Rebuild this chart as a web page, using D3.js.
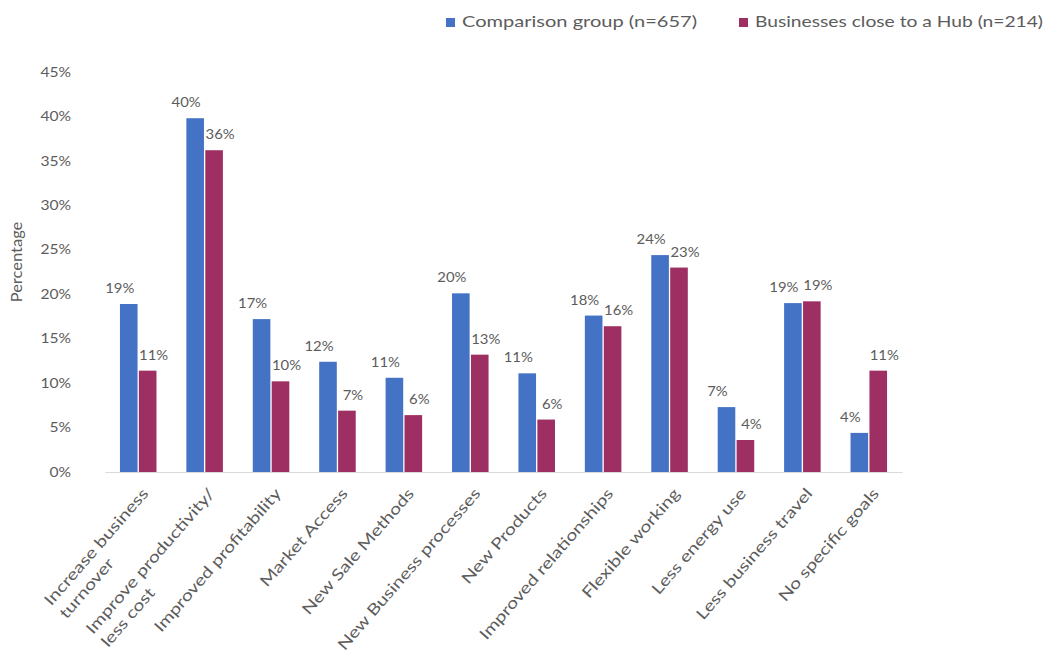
<!DOCTYPE html>
<html>
<head>
<meta charset="utf-8">
<script src="https://cdn.jsdelivr.net/npm/d3@7"></script>
<style>
  html, body { margin: 0; padding: 0; background: #fff; }
  svg text { font-family: Lato, "Open Sans", sans-serif; fill: #5c5c5c; }
</style>
</head>
<body>
<svg id="chart" width="1054" height="656"></svg>
<script>
// Goals reported by businesses: share of each group naming the goal
const categories = [
  "Increase business\nturnover",
  "Improve productivity/\nless cost",
  "Improved profitability",
  "Market Access",
  "New Sale Methods",
  "New Business processes",
  "New Products",
  "Improved relationships",
  "Flexible working",
  "Less energy use",
  "Less business travel",
  "No specific goals"
];
const comparison = [0.189, 0.398, 0.172, 0.124, 0.106, 0.201, 0.111, 0.176, 0.244, 0.073, 0.190, 0.044];
const hub        = [0.114, 0.362, 0.102, 0.069, 0.064, 0.132, 0.059, 0.164, 0.230, 0.036, 0.192, 0.114];
const seriesNames = ["Comparison group (n=657)", "Businesses close to a Hub (n=214)"];
const yTicks = [0, 0.05, 0.10, 0.15, 0.20, 0.25, 0.30, 0.35, 0.40, 0.45];
const colors = ["#4472C4", "#9E2F62"];

const svg = d3.select("#chart");
const pct = d3.format(".0%");

// widen text horizontally by factor k
function widen(sel, k) {
  sel.each(function () {
    const w = this.getComputedTextLength();
    this.setAttribute("textLength", w * k);
    this.setAttribute("lengthAdjust", "spacingAndGlyphs");
  });
}

const x0 = d3.scaleBand().domain(categories).range([105, 902])
  .paddingInner(0.45).paddingOuter(0.225);
const x1 = d3.scaleBand().domain([0, 1]).range([0, x0.bandwidth()]).paddingInner(0.07);
const y = d3.scaleLinear().domain([0, 0.45]).range([472, 72]);

// y axis (labels only)
const yAxis = svg.append("g")
  .attr("transform", "translate(105,0)")
  .call(d3.axisLeft(y).tickValues(yTicks).tickFormat(pct).tickSize(0).tickPadding(34));
yAxis.select(".domain").remove();
yAxis.selectAll("text")
  .style("font-family", "Lato, 'Open Sans', sans-serif")
  .attr("fill", "#5c5c5c").style("font-size", "13px");
widen(yAxis.selectAll("text"), 1.2);

// y axis title
const yTitle = svg.append("text")
  .attr("transform", "translate(22,262) rotate(-90)")
  .attr("text-anchor", "middle")
  .style("font-size", "15px")
  .text("Percentage");
widen(yTitle, 1.1);

// x axis baseline
const xAxis = svg.append("g")
  .attr("transform", "translate(0,472)")
  .call(d3.axisBottom(x0).tickSize(0).tickFormat(""));
xAxis.select(".domain").attr("stroke", "#d9d9d9").attr("stroke-width", 1.2);

// bars
const data = categories.map((c, i) => ({ c, v: [comparison[i], hub[i]] }));
const groups = svg.append("g").selectAll("g").data(data).join("g")
  .attr("transform", d => `translate(${x0(d.c)},0)`);

groups.selectAll("rect").data(d => d.v.map((v, s) => ({ v, s }))).join("rect")
  .attr("x", d => x1(d.s))
  .attr("width", x1.bandwidth())
  .attr("y", d => y(d.v))
  .attr("height", d => y(0) - y(d.v))
  .attr("fill", d => colors[d.s]);

// value labels
const vl = groups.selectAll("text.val").data(d => d.v.map((v, s) => ({ v, s }))).join("text")
  .attr("class", "val")
  .attr("x", d => x1(d.s) + x1.bandwidth() / 2 + (d.s === 0 ? -9 : 6))
  .attr("y", d => y(d.v) - 11)
  .attr("text-anchor", "middle")
  .style("font-size", "13.5px")
  .text(d => pct(d.v));
widen(vl, 1.1);

// category labels, rotated, lines aligned at their start
data.forEach(d => {
  const lines = d.c.split("\n");
  const g = svg.append("g")
    .attr("transform", `translate(${x0(d.c) + x0.bandwidth() / 2 + 11},494) rotate(-49)`);
  const t1 = g.append("text")
    .attr("text-anchor", "end")
    .style("font-size", "15.5px")
    .text(lines[0]);
  widen(t1, 1.26);
  if (lines.length > 1) {
    const w1 = +t1.attr("textLength");
    const t2 = g.append("text")
      .attr("x", -w1).attr("y", 20)
      .attr("text-anchor", "start")
      .style("font-size", "15.5px")
      .text(lines[1]);
    widen(t2, 1.26);
  }
});

// legend
const legendX = [446, 739];
const legendW = [235, 288];
const lg = svg.append("g").selectAll("g").data(seriesNames).join("g")
  .attr("transform", (d, i) => `translate(${legendX[i]},18)`);
lg.append("rect").attr("width", 9).attr("height", 9).attr("fill", (d, i) => colors[i]);
lg.append("text")
  .attr("x", 16).attr("y", 9)
  .style("font-size", "15px")
  .attr("textLength", (d, i) => legendW[i])
  .attr("lengthAdjust", "spacingAndGlyphs")
  .text(d => d);
</script>
</body>
</html>
